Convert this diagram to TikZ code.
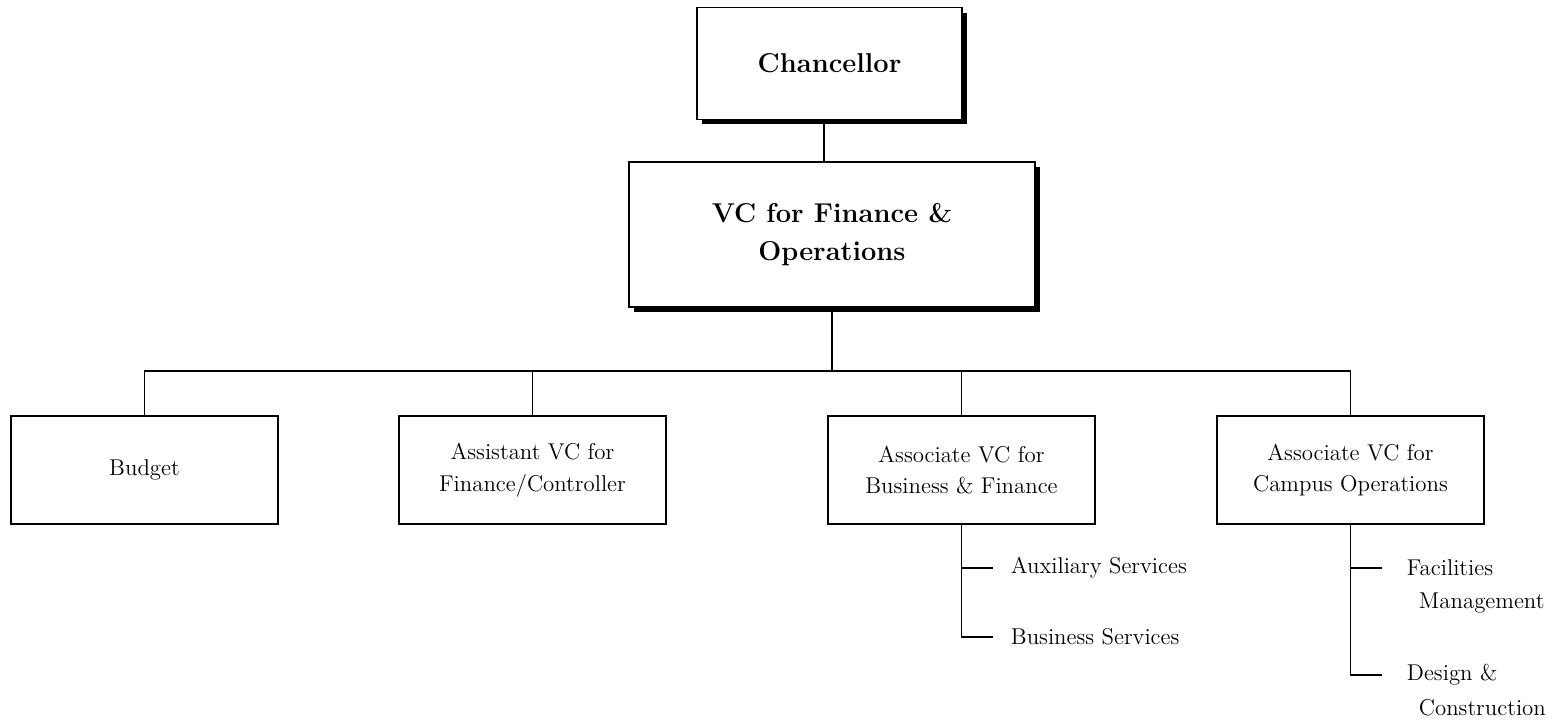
\documentclass[tikz,border=0pt]{standalone}
\usepackage{tikz}
\usetikzlibrary{shadows}

\begin{document}
\begin{tikzpicture}[x=0.02cm, y=-0.02cm]
		\tikzstyle{office}=[rectangle, draw, line width=1pt, minimum width=5.34cm, minimum height=2.16cm, align=center, font=\fontsize{13}{18}\selectfont]
		\tikzstyle{head}=[office, fill=white, font=\fontsize{15.5}{22}\selectfont\bfseries, drop shadow={shadow xshift=0.1cm, shadow yshift=-0.1cm, fill=black, opacity=1}]
		\tikzstyle{item}=[anchor=west, inner xsep=10pt, font=\fontsize{13}{18}\selectfont]
		\tikzstyle{link}=[line width=0.8pt]

		\useasboundingbox (0,0) rectangle (1566,721);

		\node[head, minimum width=5.3cm, minimum height=2.24cm] (chancellor) at (829.5,63.5) {Chancellor};
		\node[head, minimum width=8.12cm, minimum height=2.9cm] (vcfo) at (832,234.5) {VC for Finance \&\\Operations};

		\node[office] (budget) at (144.5,470) {Budget};
		\node[office] (controller) at (532.5,470) {Assistant VC for\\Finance/Controller};
		\node[office] (bizfin) at (961.5,470) {Associate VC for\\Business \& Finance};
		\node[office] (campusops) at (1350.5,470) {Associate VC for\\Campus Operations};

		\node[item] (auxiliary) at (993,568) {Auxiliary Services};
		\node[item] (bizservices) at (993,637) {Business Services};

		\node[item, inner xsep=14pt] (facilities) at (1382,568) {Facilities};
		\node[item, inner xsep=14pt] (facilities2) at (1394,603) {Management};
		\node[item, inner xsep=14pt] (design) at (1382,675) {Design \&};
		\node[item, inner xsep=14pt] (design2) at (1394,708) {Construction};

		\coordinate (bar) at (832,371);

		\draw[link] ([xshift=-0.11cm]chancellor.south) -- ([xshift=-0.11cm]chancellor.south |- vcfo.north);
		\draw[link] (vcfo.south) -- (bar);
		\draw[link] (budget.north) |- (bar) -| (campusops.north);
		\draw[link] (controller.north) -- (controller.north |- bar);
		\draw[link] (bizfin.north) -- (bizfin.north |- bar);

		\draw[link] (bizfin.south) |- (auxiliary.west);
		\draw[link] (bizfin.south) |- (bizservices.west);
		\draw[link] (campusops.south) |- (facilities.west);
		\draw[link] (campusops.south) |- (design.west);

	\end{tikzpicture}
\end{document}
